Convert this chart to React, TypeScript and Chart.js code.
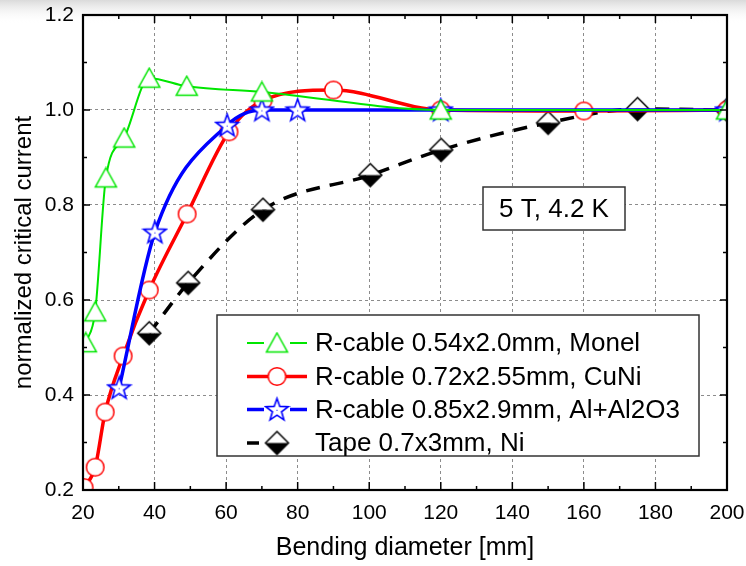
import React, { useEffect, useRef } from 'react';
import { Chart, registerables } from 'chart.js';

Chart.register(...registerables);

// ---- data ----
const xMonel = [20.8, 23.4, 26.4, 31.5, 38.5, 49, 70, 120, 200];
const yMonel = [0.51, 0.575, 0.857, 0.941, 1.067, 1.05, 1.038, 1.0, 1.0];

const xCuNi = [20.3, 23.4, 26.2, 31.2, 38.5, 49.1, 60.8, 70.3, 90, 120, 160, 200];
const yCuNi = [0.205, 0.248, 0.364, 0.482, 0.621, 0.781, 0.954, 1.02, 1.042, 1.0, 0.998, 1.0];

const xAl = [30.1, 40.1, 60.3, 70, 80, 120, 200];
const yAl = [0.415, 0.743, 0.968, 1.0, 1.0, 1.0, 1.0];

const xTape = [38.5, 49.4, 70.3, 100.3, 120.1, 150, 175, 200];
const yTape = [0.53, 0.636, 0.79, 0.863, 0.916, 0.973, 1.002, 1.0];

const seriesLabels = [
  'R-cable 0.54x2.0mm, Monel',
  'R-cable 0.72x2.55mm, CuNi',
  'R-cable 0.85x2.9mm, Al+Al2O3',
  'Tape 0.7x3mm, Ni',
];

const xMajorTicks = [20, 40, 60, 80, 100, 120, 140, 160, 180, 200];
const xMinorTicks = [30, 50, 70, 90, 110, 130, 150, 170, 190];
const yMajorTicks = [0.2, 0.4, 0.6, 0.8, 1.0, 1.2];
const yMinorTicks = [0.3, 0.5, 0.7, 0.9, 1.1];

const xTitle = 'Bending diameter [mm]';
const yTitle = 'normalized critical current';
const annotationText = '5 T, 4.2 K';

const FONT = "'Liberation Sans', Arial, sans-serif";
const GREEN = '#00e600';
const RED = '#ff0000';
const BLUE = '#0000ff';
const BLACK = '#000000';

function makeCanvas(w: number, h: number, draw: (ctx: CanvasRenderingContext2D) => void) {
  const c = document.createElement('canvas');
  c.width = w;
  c.height = h;
  const ctx = c.getContext('2d')!;
  draw(ctx);
  return c;
}

function triangleMarker() {
  return makeCanvas(25, 23, (ctx) => {
    ctx.beginPath();
    ctx.moveTo(12.5, 1.5);
    ctx.lineTo(23, 20.5);
    ctx.lineTo(2, 20.5);
    ctx.closePath();
    ctx.fillStyle = '#fff';
    ctx.fill();
    ctx.strokeStyle = GREEN;
    ctx.lineWidth = 1.5;
    ctx.stroke();
  });
}

function circleMarker() {
  return makeCanvas(21, 21, (ctx) => {
    ctx.beginPath();
    ctx.arc(10.5, 10.5, 8.8, 0, Math.PI * 2);
    ctx.fillStyle = '#fff';
    ctx.fill();
    ctx.strokeStyle = RED;
    ctx.lineWidth = 1.5;
    ctx.stroke();
  });
}

function starMarker() {
  return makeCanvas(27, 27, (ctx) => {
    const cx = 13.5, cy = 14.3, R = 11.8, r = 4.8;
    ctx.beginPath();
    for (let i = 0; i < 10; i++) {
      const ang = -Math.PI / 2 + (i * Math.PI) / 5;
      const rad = i % 2 === 0 ? R : r;
      const px = cx + rad * Math.cos(ang);
      const py = cy + rad * Math.sin(ang);
      if (i === 0) ctx.moveTo(px, py);
      else ctx.lineTo(px, py);
    }
    ctx.closePath();
    ctx.fillStyle = '#fff';
    ctx.fill();
    ctx.strokeStyle = BLUE;
    ctx.lineWidth = 1.6;
    ctx.lineJoin = 'miter';
    ctx.stroke();
    ctx.fillStyle = BLUE;
    ctx.fillRect(cx - 0.5, cy - 0.5, 1, 1);
  });
}

function diamondMarker() {
  return makeCanvas(27, 27, (ctx) => {
    const c = 13.5, h = 11.5;
    ctx.beginPath();
    ctx.moveTo(c, c - h);
    ctx.lineTo(c + h, c);
    ctx.lineTo(c - h, c);
    ctx.closePath();
    ctx.fillStyle = '#fff';
    ctx.fill();
    ctx.beginPath();
    ctx.moveTo(c - h, c);
    ctx.lineTo(c + h, c);
    ctx.lineTo(c, c + h);
    ctx.closePath();
    ctx.fillStyle = '#000';
    ctx.fill();
    ctx.beginPath();
    ctx.moveTo(c, c - h);
    ctx.lineTo(c + h, c);
    ctx.lineTo(c, c + h);
    ctx.lineTo(c - h, c);
    ctx.closePath();
    ctx.strokeStyle = '#000';
    ctx.lineWidth = 1.5;
    ctx.stroke();
  });
}

function pts(xs: number[], ys: number[]) {
  return xs.map((x, i) => ({ x, y: ys[i] }));
}

export default function App() {
  const ref = useRef<HTMLCanvasElement>(null);

  useEffect(() => {
    const markers = [triangleMarker(), circleMarker(), starMarker(), diamondMarker()];
    const colors = [GREEN, RED, BLUE, BLACK];
    const widths = [2, 3.5, 3.5, 3.5];

    const bgPlugin = {
      id: 'bg',
      beforeDraw(chart: any) {
        const { ctx, width, height } = chart;
        ctx.save();
        ctx.fillStyle = '#fff';
        ctx.fillRect(0, 0, width, height);
        const g = ctx.createLinearGradient(0, 0, 0, 24);
        g.addColorStop(0, '#dadada');
        g.addColorStop(1, 'rgba(255,255,255,0)');
        ctx.fillStyle = g;
        ctx.fillRect(0, 0, width, 24);
        ctx.restore();
      },
    };

    const framePlugin = {
      id: 'frame',
      afterDatasetsDraw(chart: any) {
        const { ctx, chartArea: a } = chart;
        const xs = chart.scales.x;
        const ys = chart.scales.y;
        ctx.save();
        ctx.strokeStyle = '#000';
        const seg = (x1: number, y1: number, x2: number, y2: number) => {
          ctx.beginPath();
          ctx.moveTo(x1, y1);
          ctx.lineTo(x2, y2);
          ctx.stroke();
        };
        ctx.lineWidth = 1.5;
        xMajorTicks.forEach((v) => {
          const p = xs.getPixelForValue(v);
          seg(p, a.bottom, p, a.bottom - 8);
          seg(p, a.top, p, a.top + 8);
        });
        xMinorTicks.forEach((v) => {
          const p = xs.getPixelForValue(v);
          seg(p, a.bottom, p, a.bottom - 4);
          seg(p, a.top, p, a.top + 4);
        });
        yMajorTicks.forEach((v) => {
          const p = ys.getPixelForValue(v);
          seg(a.left, p, a.left + 7, p);
          seg(a.right, p, a.right - 7, p);
        });
        yMinorTicks.forEach((v) => {
          const p = ys.getPixelForValue(v);
          seg(a.left, p, a.left + 4, p);
          seg(a.right, p, a.right - 4, p);
        });
        ctx.lineWidth = 2.2;
        ctx.strokeRect(a.left, a.top, a.right - a.left, a.bottom - a.top);
        ctx.restore();
      },
      afterDraw(chart: any) {
        const { ctx } = chart;
        ctx.save();
        // legend box
        const lx = 217, ly = 315, lw = 482, lh = 141;
        ctx.fillStyle = '#fff';
        ctx.fillRect(lx, ly, lw, lh);
        ctx.strokeStyle = '#333';
        ctx.lineWidth = 1.5;
        ctx.strokeRect(lx, ly, lw, lh);
        ctx.font = `26px ${FONT}`;
        ctx.textBaseline = 'middle';
        ctx.textAlign = 'left';
        const rows = [343, 376.5, 409.5, 443];
        seriesLabels.forEach((label, i) => {
          const yy = rows[i];
          ctx.strokeStyle = colors[i];
          ctx.lineWidth = widths[i];
          ctx.beginPath();
          if (i === 3) {
            ctx.moveTo(247, yy);
            ctx.lineTo(259, yy);
          } else if (i === 1) {
            ctx.moveTo(247, yy);
            ctx.lineTo(307, yy);
          } else {
            ctx.moveTo(247, yy);
            ctx.lineTo(264, yy);
            ctx.moveTo(290, yy);
            ctx.lineTo(307, yy);
          }
          ctx.stroke();
          const m = markers[i];
          ctx.drawImage(m, 277 - m.width / 2, yy - m.height / 2);
          ctx.fillStyle = '#000';
          ctx.fillText(label, 315, yy + 1);
        });
        // annotation box
        ctx.fillStyle = '#fff';
        ctx.fillRect(483, 187, 142, 43);
        ctx.strokeStyle = '#333';
        ctx.lineWidth = 1.5;
        ctx.strokeRect(483, 187, 142, 43);
        ctx.fillStyle = '#000';
        ctx.textAlign = 'center';
        ctx.font = `26px ${FONT}`;
        ctx.fillText(annotationText, 554, 209.5);
        ctx.restore();
      },
    };

    const mk = (i: number, xs: number[], ys: number[], order: number, dash: number[] = []) => ({
      label: seriesLabels[i],
      data: pts(xs, ys),
      borderColor: colors[i],
      backgroundColor: colors[i],
      borderWidth: widths[i],
      borderDash: dash,
      pointStyle: markers[i],
      pointRadius: 10,
      cubicInterpolationMode: 'monotone',
      order,
    });

    const chart = new Chart(ref.current!, {
      type: 'line',
      data: {
        datasets: [
          mk(0, xMonel, yMonel, 0),
          mk(1, xCuNi, yCuNi, 2),
          mk(2, xAl, yAl, 1),
          mk(3, xTape, yTape, 3, [14, 10]),
        ] as any,
      },
      options: {
        animation: false,
        responsive: false,
        devicePixelRatio: 1,
        layout: { padding: { top: 15, right: 19, bottom: 0, left: 0 } },
        plugins: { legend: { display: false }, tooltip: { enabled: false } },
        scales: {
          x: {
            type: 'linear',
            min: 20,
            max: 200,
            afterFit: (s: any) => {
              s.height = 76;
              s.paddingLeft = 0;
              s.paddingRight = 0;
            },
            afterBuildTicks: (s: any) => {
              s.ticks = xMajorTicks.map((v) => ({ value: v }));
            },
            ticks: {
              color: '#000',
              font: { family: FONT, size: 21 },
              padding: 11,
              maxRotation: 0,
              callback: (v: any) => String(v),
            },
            grid: { color: '#8c8c8c', lineWidth: 1, drawTicks: false },
            border: { display: false, dash: [3, 3] },
            title: {
              display: true,
              text: xTitle,
              color: '#000',
              font: { family: FONT, size: 25 },
              padding: { top: 0, bottom: 3 },
            },
          },
          y: {
            type: 'linear',
            min: 0.2,
            max: 1.2,
            afterFit: (s: any) => {
              s.width = 83;
              s.paddingTop = 0;
              s.paddingBottom = 0;
            },
            afterBuildTicks: (s: any) => {
              s.ticks = yMajorTicks.map((v) => ({ value: v }));
            },
            ticks: {
              color: '#000',
              font: { family: FONT, size: 21 },
              padding: 9,
              callback: (v: any) => Number(v).toFixed(1),
            },
            grid: { color: '#8c8c8c', lineWidth: 1, drawTicks: false },
            border: { display: false, dash: [3, 3] },
            title: {
              display: true,
              text: yTitle,
              color: '#000',
              font: { family: FONT, size: 24 },
              padding: { top: 10, bottom: 0 },
            },
          },
        },
      } as any,
      plugins: [bgPlugin, framePlugin],
    });
    return () => chart.destroy();
  }, []);

  return (
    <div style={{ position: 'fixed', left: 0, top: 0, width: 746, height: 566 }}>
      <canvas ref={ref} width={746} height={566} style={{ display: 'block' }} />
    </div>
  );
}
